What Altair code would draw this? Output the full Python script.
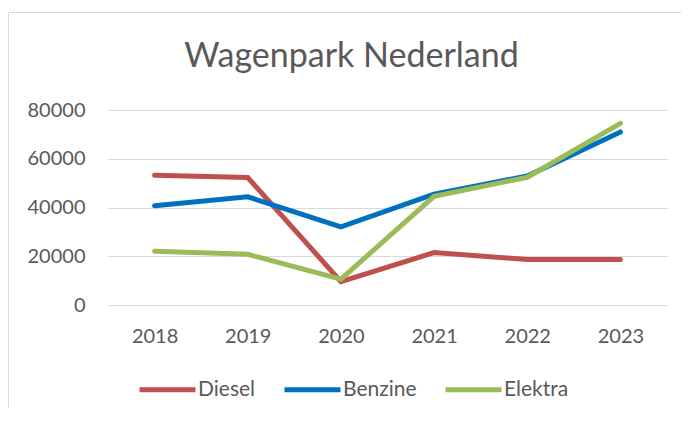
import altair as alt
import pandas as pd

years = ["2018", "2019", "2020", "2021", "2022", "2023"]
diesel = [53200, 52300, 9600, 21500, 18700, 18700]
benzine = [40700, 44400, 32100, 45500, 52900, 71000]
elektra = [22100, 20800, 10600, 44600, 52400, 74500]
series = ["Diesel", "Benzine", "Elektra"]
colors = ["#c0504d", "#0070c0", "#9bbb59"]
y_ticks = [0, 20000, 40000, 60000, 80000]
title_text = "Wagenpark Nederland"

rows = []
for name, vals in zip(series, [diesel, benzine, elektra]):
    for yr, v in zip(years, vals):
        rows.append({"Jaar": yr, "Brandstof": name, "Aantal": v})
df = pd.DataFrame(rows)

FONT = "Lato"
GREY = "#595959"

border = alt.Chart(pd.DataFrame({"a": [0]})).mark_rect(
    fill=None, stroke="#d9d9d9", strokeWidth=1
).encode(
    x=alt.value(-99.5), x2=alt.value(800), y=alt.value(-97.5), y2=alt.value(600)
)

title = alt.Chart(pd.DataFrame({"t": [title_text]})).mark_text(
    font=FONT, fontSize=34, color=GREY, align="center", baseline="alphabetic"
).encode(
    x=alt.value(243.5), y=alt.value(-43), text="t:N"
)

lines = alt.Chart(df).mark_line(strokeWidth=5, strokeCap="round").encode(
    x=alt.X("Jaar:N", sort=years,
            scale=alt.Scale(type="point", padding=0.5),
            axis=alt.Axis(title=None, labelAngle=0, ticks=False, tickSize=0,
                          domain=False, grid=False, labelPadding=21,
                          labelFont=FONT, labelFontSize=20, labelColor=GREY)),
    y=alt.Y("Aantal:Q", scale=alt.Scale(domain=[0, 80000], nice=False),
            axis=alt.Axis(title=None, values=y_ticks, format="d", ticks=False,
                          tickSize=0, domain=False, grid=True, gridColor="#d9d9d9",
                          gridWidth=1, labelPadding=23, labelFont=FONT,
                          labelFontSize=20, labelColor=GREY)),
    color=alt.Color("Brandstof:N",
                    scale=alt.Scale(domain=series, range=colors),
                    legend=alt.Legend(title=None, orient="none", direction="horizontal",
                                      legendX=29, legendY=249,
                                      symbolType="stroke", symbolSize=3136,
                                      symbolStrokeWidth=5, labelOffset=0,
                                      columnPadding=18, labelFont=FONT,
                                      labelFontSize=21, labelColor=GREY)),
    order=alt.Order("Jaar:N"),
)

chart = alt.layer(border, title, lines).properties(
    width=559, height=195,
    autosize="none",
    padding={"left": 100, "top": 102, "right": 14, "bottom": 103},
).configure_view(stroke=None)

chart.save("out.html", embed_options={"renderer": "svg", "actions": False})
